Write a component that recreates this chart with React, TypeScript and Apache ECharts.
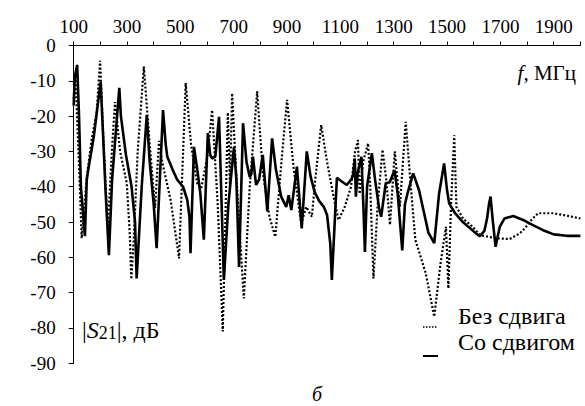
import React, { useEffect, useRef } from "react";
import * as echarts from "echarts";

// Frequencies (MHz) and |S21| (dB) — "Со сдвигом" (solid)
const solidF = [100, 104, 113, 120, 127, 142, 149, 155, 175, 201, 210, 220, 232, 244, 271, 277, 296, 317, 330, 336, 355, 374, 385, 400, 411, 435, 445, 451, 470, 488, 510, 526, 534, 538, 551, 565, 575, 588, 603, 612, 619, 631, 645, 663, 680, 701, 710, 720, 735, 748, 760, 766, 772, 784, 795, 809, 826, 844, 858, 878, 897, 906, 916, 937, 955, 974, 988, 1003, 1020, 1038, 1050, 1062, 1068, 1087, 1105, 1124, 1140, 1147, 1154, 1158, 1165, 1179, 1186, 1192, 1200, 1218, 1230, 1245, 1253, 1270, 1285, 1303, 1315, 1332, 1342, 1353, 1373, 1395, 1414, 1430, 1452, 1470, 1489, 1500, 1508, 1530, 1558, 1590, 1608, 1623, 1640, 1650, 1657, 1663, 1672, 1682, 1690, 1698, 1715, 1748, 1785, 1820, 1860, 1900, 1948, 2000];
const solidV = [-17, -9, -5.5, -20, -40, -54, -38, -35, -26, -10.3, -25, -42, -59.4, -38, -12, -20, -31, -40, -50, -66, -40, -19.7, -33, -45, -57.4, -18.3, -28, -31.5, -35, -38, -40, -43.8, -48.5, -58.8, -28.7, -36, -42, -55, -24.8, -31, -32, -31.5, -20.2, -66.4, -45, -28.7, -38, -62.7, -22, -33, -37.2, -36.5, -31.5, -39.5, -38, -31, -47, -26.3, -35, -42.8, -45.7, -42.4, -46.6, -34.3, -51.8, -30, -37, -41.4, -44, -45.7, -48, -56, -66.4, -37.5, -38.5, -39.5, -38, -37, -32, -42.8, -36, -31.5, -45, -58.5, -40, -30.5, -38, -46, -48.5, -39, -38.7, -35.3, -42, -58, -45, -41.5, -36.2, -41, -47.5, -53, -56, -42, -33.4, -41, -44.7, -47.5, -49.9, -52, -53.2, -54, -52.5, -49, -45, -42.8, -50, -57, -54, -51.3, -49, -48.3, -49.4, -50.8, -52.3, -53.5, -53.9, -53.9];

// "Без сдвига" (dotted)
const dottedF = [100, 106, 118, 130, 149, 167, 186, 199, 212, 228, 243, 255, 274, 299, 310, 316, 325, 340, 363, 385, 405, 420, 432, 464, 495, 520, 540, 563, 578, 601, 619, 640, 659, 670, 678, 686, 694, 705, 720, 738, 760, 788, 809, 834, 856, 880, 900, 925, 953, 972, 993, 1006, 1028, 1050, 1075, 1093, 1115, 1140, 1155, 1166, 1172, 1185, 1204, 1212, 1224, 1240, 1258, 1272, 1286, 1304, 1323, 1345, 1362, 1381, 1420, 1452, 1475, 1496, 1505, 1515, 1527, 1535, 1560, 1595, 1623, 1685, 1735, 1773, 1795, 1810, 1841, 1897, 1950, 2000];
const dottedV = [-15, -7.9, -30, -54.6, -37.2, -26.8, -19, -4.3, -28, -52, -30, -16, -30, -39, -53, -66.2, -55, -30, -6, -28, -46, -27, -33, -44, -60.3, -10.6, -28, -39, -40.5, -31.5, -18.3, -45, -81, -45, -19, -40, -13.5, -30, -50, -71.6, -40, -13, -36, -48.5, -54.2, -32, -15.4, -35, -50.4, -45.7, -48.5, -37.8, -22.5, -33, -43, -49.4, -46, -40, -30, -26.8, -42, -33, -27.7, -40, -66, -45, -29.5, -38, -50.8, -30, -45.7, -21.6, -38, -55, -64.5, -76.8, -62, -51.3, -68.8, -45, -25.4, -45.7, -49, -51.3, -53.7, -54.6, -54.8, -53.2, -51.5, -49.9, -47.5, -47.5, -48.2, -49];

// Axis ticks
const xTickValues = [100, 300, 500, 700, 900, 1100, 1300, 1500, 1700, 1900];
const yTicks = [0, -10, -20, -30, -40, -50, -60, -70, -80, -90];

const FONT = "Liberation Serif, DejaVu Serif, serif";
const FS = 19;
const BIG = 24;

export default function App() {
  const ref = useRef<HTMLDivElement>(null);
  useEffect(() => {
    if (!ref.current) return;
    const chart = echarts.init(ref.current, null, { renderer: "svg" });
    const solidData = solidF.map((f, i) => [f, solidV[i]]);
    const dottedData = dottedF.map((f, i) => [f, dottedV[i]]);
    chart.setOption({
      animation: false,
      backgroundColor: "#ffffff",
      textStyle: { fontFamily: FONT },
      grid: { left: 73.7, right: 4.6, top: 45.5, bottom: 42.7 },
      xAxis: {
        type: "value",
        position: "top",
        min: 100,
        max: 2000,
        interval: 100,
        axisLine: { show: true, onZero: false, lineStyle: { color: "#000", width: 1 } },
        axisTick: { show: true, inside: false, length: 4, lineStyle: { color: "#000" } },
        splitLine: { show: false },
        axisLabel: {
          margin: 10,
          color: "#000",
          fontFamily: FONT,
          fontSize: FS,
          formatter: (v: number) => (xTickValues.includes(v) ? String(v) : ""),
        },
      },
      yAxis: {
        type: "value",
        min: yTicks[yTicks.length - 1],
        max: yTicks[0],
        interval: 10,
        axisLine: { show: true, onZero: false, lineStyle: { color: "#000", width: 1 } },
        axisTick: { show: true, inside: false, length: 5, lineStyle: { color: "#000" } },
        splitLine: { show: false },
        axisLabel: {
          margin: 18,
          color: "#000",
          fontFamily: FONT,
          fontSize: FS,
          formatter: (v: number) => String(v),
        },
      },
      series: [
        {
          name: "Без сдвига",
          type: "line",
          data: dottedData,
          showSymbol: false,
          lineStyle: { color: "#000", width: 2.2, type: [2, 2] },
          z: 2,
        },
        {
          name: "Со сдвигом",
          type: "line",
          data: solidData,
          showSymbol: false,
          lineStyle: { color: "#000", width: 2.6 },
          z: 3,
        },
      ],
      graphic: [
        {
          type: "text",
          x: 576,
          y: 73,
          style: {
            text: "{i|f}{n|, МГц}",
            align: "right",
            verticalAlign: "middle",
            rich: {
              i: { fontFamily: FONT, fontSize: 21, fontStyle: "italic", fill: "#000" },
              n: { fontFamily: FONT, fontSize: 21, fill: "#000" },
            },
          },
        },
        {
          type: "text",
          x: 82,
          y: 330,
          style: {
            text: "{n||}{i|S}{s|21}{n||, дБ}",
            align: "left",
            verticalAlign: "middle",
            rich: {
              n: { fontFamily: FONT, fontSize: BIG, fill: "#000" },
              i: { fontFamily: FONT, fontSize: BIG, fontStyle: "italic", fill: "#000" },
              s: { fontFamily: FONT, fontSize: 18, fill: "#000", padding: [5, 0, 0, 0] },
            },
          },
        },
        {
          type: "line",
          shape: { x1: 423, y1: 327, x2: 438, y2: 327 },
          style: { stroke: "#000", lineWidth: 1.5, lineDash: [1.5, 1.5] },
        },
        {
          type: "text",
          x: 458,
          y: 315.5,
          style: { text: "Без сдвига", align: "left", verticalAlign: "middle", fontFamily: FONT, fontSize: BIG, fill: "#000" },
        },
        {
          type: "line",
          shape: { x1: 423, y1: 356, x2: 438, y2: 356 },
          style: { stroke: "#000", lineWidth: 2 },
        },
        {
          type: "text",
          x: 458,
          y: 342,
          style: { text: "Со сдвигом", align: "left", verticalAlign: "middle", fontFamily: FONT, fontSize: BIG, fill: "#000" },
        },
        {
          type: "text",
          x: 317,
          y: 394,
          style: { text: "б", align: "center", verticalAlign: "middle", fontFamily: FONT, fontSize: 20, fontStyle: "italic", fill: "#000" },
        },
      ],
    });
    return () => chart.dispose();
  }, []);
  return (
    <div
      ref={ref}
      style={{ position: "fixed", left: 0, top: 0, width: 585, height: 406, background: "#fff" }}
    />
  );
}
